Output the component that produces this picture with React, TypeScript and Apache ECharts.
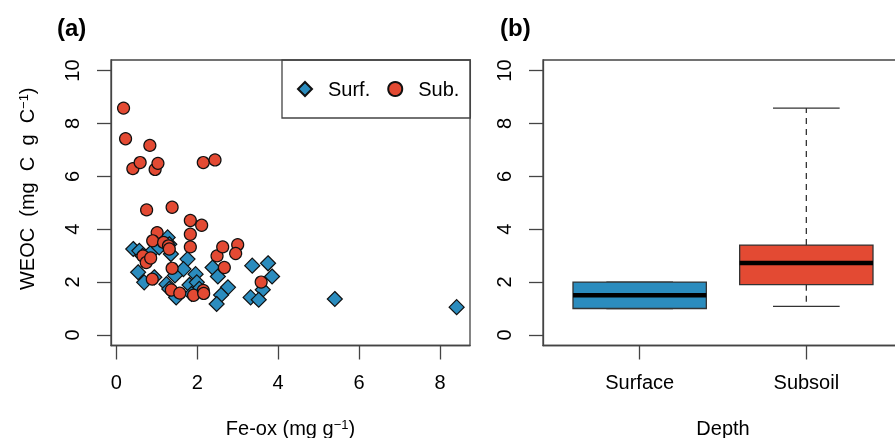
import React, { useEffect, useRef } from "react";
import * as echarts from "echarts";

// ---- data ----
const surfFeOx = [0.42, 0.57, 0.65, 0.90, 1.06, 1.27, 1.31, 1.35, 0.54, 0.69, 0.94, 1.24, 1.31, 1.48, 1.76, 1.66, 1.96, 1.81, 1.99, 2.05, 2.38, 2.51, 2.76, 2.59, 2.48, 3.36, 3.75, 3.85, 3.62, 3.32, 3.52, 5.40, 8.41, 1.45, 1.86];
const surfWEOC = [3.25, 3.18, 2.99, 3.18, 3.31, 3.69, 3.43, 3.06, 2.37, 1.99, 2.18, 1.92, 1.74, 1.42, 2.87, 2.49, 2.30, 1.89, 1.99, 1.74, 2.55, 2.21, 1.80, 1.51, 1.17, 2.62, 2.71, 2.21, 1.71, 1.42, 1.33, 1.36, 1.05, 2.25, 1.55];
const subFeOx = [0.18, 0.23, 0.83, 0.41, 0.59, 0.96, 1.03, 2.15, 2.44, 0.75, 1.38, 1.83, 2.11, 1.83, 1.83, 1.01, 0.90, 1.17, 1.29, 1.31, 0.66, 0.74, 0.85, 0.89, 1.38, 1.36, 1.57, 1.91, 2.15, 2.16, 2.49, 2.63, 2.67, 3.00, 2.95, 3.58];
const subWEOC = [8.58, 7.42, 7.17, 6.29, 6.52, 6.26, 6.49, 6.52, 6.62, 4.73, 4.83, 4.33, 4.15, 3.81, 3.33, 3.87, 3.56, 3.50, 3.37, 3.25, 2.99, 2.74, 2.91, 2.11, 2.52, 1.70, 1.58, 1.50, 1.68, 1.57, 2.99, 3.33, 2.55, 3.41, 3.08, 2.00];

const depthCategories = ["Surface", "Subsoil"];
const boxMin = [1.0, 1.08];
const boxQ1 = [1.0, 1.9];
const boxMedian = [1.5, 2.72];
const boxQ3 = [2.0, 3.4];
const boxMax = [2.0, 8.58];

const yTicks = [0, 2, 4, 6, 8, 10];
const xTicks = [0, 2, 4, 6, 8];
const depthTicks = [1, 2];

const BLUE = "#2b8cbe";
const RED = "#e34a33";
const boxColors = [BLUE, RED];
const FONT = "Liberation Sans, Arial, Helvetica, sans-serif";
const AX = "#444";

export default function App() {
  const ref = useRef<HTMLDivElement>(null);
  useEffect(() => {
    if (!ref.current) return;
    const chart = echarts.init(ref.current, undefined, { renderer: "svg" });
    const surfData = surfFeOx.map((x, i) => [x, surfWEOC[i]]);
    const subData = subFeOx.map((x, i) => [x, subWEOC[i]]);
    const boxData = depthCategories.map((_, i) => [i + 1, boxMin[i], boxQ1[i], boxMedian[i], boxQ3[i], boxMax[i]]);

    const labelStyle = { color: "#000", fontSize: 20, fontFamily: FONT };
    const tick = (vals: number[]) => ({ show: true, length: 14, customValues: vals, lineStyle: { color: AX, width: 1.3 } });
    const axLine = { show: true, onZero: false, lineStyle: { color: AX, width: 1.3 } };
    const richName = {
      n: { fontSize: 20, fontFamily: FONT, color: "#000", lineHeight: 20 },
      sup: { fontSize: 13, fontFamily: FONT, color: "#000", verticalAlign: "top", lineHeight: 12 },
    };
    const yAxisCommon = (gi: number, withName: boolean) => ({
      type: "value",
      gridIndex: gi,
      min: -0.4,
      max: 10.4,
      axisLine: axLine,
      axisTick: tick(yTicks),
      axisLabel: { ...labelStyle, rotate: 90, margin: 29, customValues: yTicks },
      splitLine: { show: false },
      name: withName ? "{n|WEOC  (mg  C  g  C}{sup|−1}{n|)}" : "",
      nameLocation: "middle",
      nameGap: 74,
      nameTextStyle: { rich: richName, padding: [0, 0, 0, 28] },
    });

    const option: any = {
      animation: false,
      textStyle: { fontFamily: FONT },
      title: [
        { text: "(a)", left: 57, top: 15, padding: 0, textStyle: { fontSize: 24, fontWeight: "bold", color: "#000", fontFamily: FONT } },
        { text: "(b)", left: 500, top: 15, padding: 0, textStyle: { fontSize: 24, fontWeight: "bold", color: "#000", fontFamily: FONT } },
      ],
      legend: {
        data: [
          { name: "Surf.", icon: "diamond" },
          { name: "Sub.", icon: "circle" },
        ],
        left: 282,
        top: 60,
        orient: "horizontal",
        padding: [19, 11, 19, 15],
        itemWidth: 14,
        itemHeight: 14,
        itemGap: 17,
        borderColor: AX,
        borderWidth: 1.3,
        borderRadius: 0,
        textStyle: { ...labelStyle, padding: [0, 0, 0, 11] },
      },
      grid: [
        { left: 111, right: 425, top: 60, bottom: 92.5, show: true, borderColor: AX, borderWidth: 1.3, backgroundColor: "transparent", containLabel: false, outerBoundsMode: "none" },
        { left: 543, right: -8, top: 60, bottom: 92.5, show: true, borderColor: AX, borderWidth: 1.3, backgroundColor: "transparent", containLabel: false, outerBoundsMode: "none" },
      ],
      xAxis: [
        {
          type: "value",
          gridIndex: 0,
          min: -0.13,
          max: 8.74,
          axisLine: axLine,
          axisTick: tick(xTicks),
          axisLabel: { ...labelStyle, margin: 26, customValues: xTicks },
          splitLine: { show: false },
          name: "{n|Fe-ox (mg g}{sup|−1}{n|)}",
          nameLocation: "middle",
          nameGap: 72,
          nameTextStyle: { rich: richName },
        },
        {
          type: "value",
          gridIndex: 1,
          min: 0.42,
          max: 2.58,
          axisLine: axLine,
          axisTick: tick(depthTicks),
          axisLabel: {
            ...labelStyle,
            margin: 26,
            customValues: depthTicks,
            formatter: (v: number) => depthCategories[Math.round(v) - 1] ?? "",
          },
          splitLine: { show: false },
          name: "Depth",
          nameLocation: "middle",
          nameGap: 72,
          nameTextStyle: { ...labelStyle, lineHeight: 20 },
        },
      ],
      yAxis: [yAxisCommon(0, true), yAxisCommon(1, false)],
      series: [
        {
          name: "Surf.",
          type: "scatter",
          xAxisIndex: 0,
          yAxisIndex: 0,
          symbol: "diamond",
          symbolSize: 15,
          data: surfData,
          itemStyle: { color: BLUE, borderColor: "#111", borderWidth: 1.2, opacity: 1 },
          z: 2,
        },
        {
          name: "Sub.",
          type: "scatter",
          xAxisIndex: 0,
          yAxisIndex: 0,
          symbol: "circle",
          symbolSize: 12,
          data: subData,
          itemStyle: { color: RED, borderColor: "#111", borderWidth: 1.2, opacity: 1 },
          z: 3,
        },
        {
          type: "custom",
          xAxisIndex: 1,
          yAxisIndex: 1,
          data: boxData,
          encode: { x: 0, y: [1, 2, 3, 4, 5] },
          renderItem: (params: any, api: any) => {
            const x = api.value(0);
            const mn = api.value(1), q1 = api.value(2), md = api.value(3), q3 = api.value(4), mx = api.value(5);
            const halfW = 0.4, capW = 0.2;
            const pL = api.coord([x - halfW, q3]);
            const pR = api.coord([x + halfW, q1]);
            const cx = api.coord([x, md])[0];
            const capL = api.coord([x - capW, mx])[0];
            const capR = api.coord([x + capW, mx])[0];
            const yMax = api.coord([x, mx])[1];
            const yMin = api.coord([x, mn])[1];
            const yMd = api.coord([x, md])[1];
            const stroke = { stroke: "#333", lineWidth: 1.3 };
            const color = boxColors[params.dataIndex];
            return {
              type: "group",
              children: [
                { type: "line", shape: { x1: cx, y1: pL[1], x2: cx, y2: yMax }, style: { ...stroke, lineDash: [6, 5] } },
                { type: "line", shape: { x1: cx, y1: pR[1], x2: cx, y2: yMin }, style: { ...stroke, lineDash: [6, 5] } },
                { type: "line", shape: { x1: capL, y1: yMax, x2: capR, y2: yMax }, style: stroke },
                { type: "line", shape: { x1: capL, y1: yMin, x2: capR, y2: yMin }, style: stroke },
                { type: "rect", shape: { x: pL[0], y: pL[1], width: pR[0] - pL[0], height: pR[1] - pL[1] }, style: { fill: color, ...stroke } },
                { type: "line", shape: { x1: pL[0], y1: yMd, x2: pR[0], y2: yMd }, style: { stroke: "#000", lineWidth: 4.5 } },
              ],
            };
          },
        },
      ],
    };
    chart.setOption(option);
    return () => chart.dispose();
  }, []);
  return <div ref={ref} style={{ position: "fixed", left: 0, top: 0, width: 895, height: 438 }} />;
}
